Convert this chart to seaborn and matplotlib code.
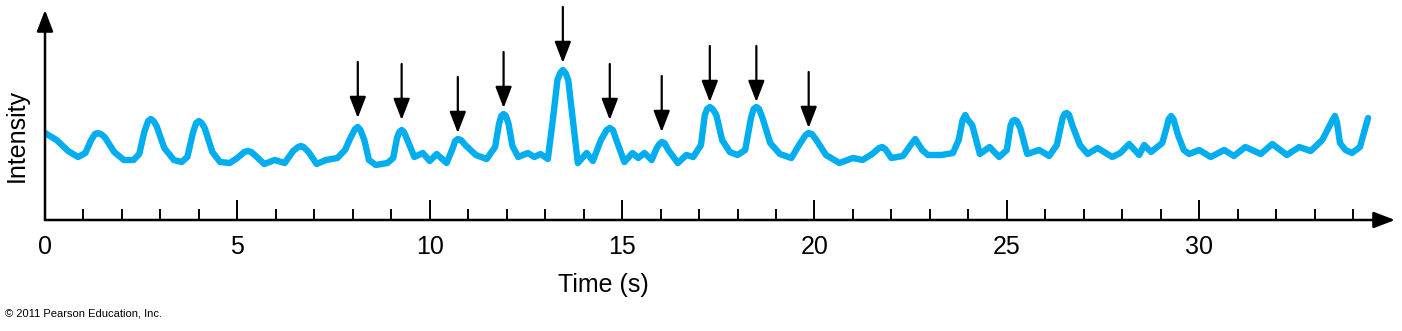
import matplotlib
matplotlib.use("Agg")
import matplotlib.pyplot as plt
from matplotlib.patches import ArrowStyle
import seaborn as sns
import pandas as pd

# ---- data ----
time_s = [0.00, 0.30, 0.60, 0.86, 1.05, 1.20, 1.30, 1.37, 1.45, 1.55, 1.80, 2.05, 2.30, 2.45, 2.58,
          2.68, 2.75, 2.82, 2.90, 3.10, 3.35, 3.55, 3.70, 3.85, 3.93, 4.00, 4.07, 4.15, 4.35, 4.55,
          4.80, 5.00, 5.18, 5.27, 5.36, 5.45, 5.70, 5.97, 6.23, 6.45, 6.58, 6.65, 6.72, 6.85, 7.06,
          7.30, 7.60, 7.80, 7.95, 8.06, 8.13, 8.20, 8.30, 8.42, 8.60, 8.90, 9.05, 9.15, 9.21, 9.27,
          9.33, 9.42, 9.60, 9.82, 10.00, 10.18, 10.44, 10.60, 10.66, 10.73, 10.81, 10.95, 11.20,
          11.48, 11.70, 11.80, 11.86, 11.92, 11.98, 12.05, 12.15, 12.30, 12.55, 12.72, 12.88,
          13.07, 13.20, 13.32, 13.39, 13.46, 13.53, 13.60, 13.72, 13.85, 14.08, 14.24, 14.45,
          14.60, 14.68, 14.76, 14.85, 15.06, 15.27, 15.42, 15.58, 15.77, 15.90, 15.97, 16.03,
          16.10, 16.20, 16.45, 16.67, 16.85, 17.05, 17.15, 17.21, 17.28, 17.35, 17.45, 17.60,
          17.80, 18.00, 18.20, 18.35, 18.42, 18.49, 18.56, 18.65, 18.85, 19.10, 19.40, 19.60,
          19.77, 19.85, 19.93, 20.05, 20.30, 20.65, 21.00, 21.25, 21.50, 21.68, 21.76, 21.84,
          22.00, 22.30, 22.50, 22.62, 22.80, 22.95, 23.30, 23.60, 23.75, 23.85, 23.92, 23.99,
          24.10, 24.30, 24.55, 24.80, 25.00, 25.10, 25.15, 25.20, 25.26, 25.35, 25.53, 25.84,
          26.10, 26.30, 26.45, 26.50, 26.56, 26.62, 26.70, 26.90, 27.10, 27.36, 27.74, 27.95,
          28.18, 28.44, 28.57, 28.75, 29.04, 29.15, 29.21, 29.27, 29.33, 29.45, 29.60, 29.74,
          30.00, 30.30, 30.65, 30.90, 31.20, 31.60, 31.90, 32.28, 32.60, 32.90, 33.20, 33.40,
          33.48, 33.53, 33.58, 33.66, 33.80, 33.97, 34.18, 34.39]
intensity = [87, 80, 69, 63, 67, 80, 86, 87, 86, 83, 68, 60, 60, 66, 88,
             99, 101, 99, 94, 72, 60, 58, 63, 88, 97, 99, 97, 92, 68, 58,
             57, 62, 68, 69, 68, 65, 56, 60, 57, 69, 73, 74, 73, 68, 56,
             60, 62, 70, 83, 91, 93, 90, 80, 60, 55, 57, 62, 82, 88, 90,
             88, 80, 63, 67, 59, 66, 57, 72, 79, 81, 80, 74, 65,
             61, 73, 96, 104, 106, 104, 96, 74, 63, 67, 63, 66,
             61, 100, 140, 147, 150, 147, 140, 100, 57, 67, 59, 80,
             90, 92, 90, 80, 58, 67, 62, 67, 60, 72, 76, 78,
             77, 70, 57, 65, 63, 75, 105, 111, 113, 111, 105, 80,
             68, 65, 70, 102, 111, 113, 111, 102, 77, 66, 62, 75,
             85, 87, 86, 80, 65, 57, 62, 60, 66, 72, 73, 71,
             62, 64, 75, 81, 70, 65, 65, 67, 80, 100, 105, 100,
             95, 66, 73, 63, 70, 95, 99, 100, 99, 92, 66, 70,
             64, 75, 102, 106, 107, 105, 95, 75, 66, 72, 63, 67,
             76, 65, 75, 68, 77, 92, 101, 104, 101, 85, 70, 66,
             70, 63, 70, 64, 73, 66, 76, 65, 73, 69, 80, 95,
             101, 104, 98, 77, 70, 67, 73, 102]

arrow_times = [8.13, 9.27, 10.73, 11.92, 13.46, 14.68, 16.03, 17.28, 18.49, 19.85]
arrow_tips = [102, 100, 87, 112, 157, 100, 88, 118, 118, 92]
arrow_len = 56

major_ticks = [0, 5, 10, 15, 20, 25, 30]
major_labels = ["0", "5", "10", "15", "20", "25", "30"]
minor_ticks = [t for t in range(0, 35) if t % 5 != 0]

# ---- style ----
sns.set_theme(style="white")
plt.rcParams["font.family"] = ["Liberation Sans", "DejaVu Sans"]
plt.rcParams["text.color"] = "black"
plt.rcParams["xtick.color"] = "black"

W, H = 1402, 331
fig = plt.figure(figsize=(W / 100, H / 100), dpi=100)
x0_px, x1_px, ytop_px, ybot_px = 45, 1395, 10, 220
ax = fig.add_axes([x0_px / W, 1 - ybot_px / H, (x1_px - x0_px) / W, (ybot_px - ytop_px) / H])
ax.set_facecolor("none")

df = pd.DataFrame({"Time (s)": time_s, "Intensity": intensity})
sns.lineplot(data=df, x="Time (s)", y="Intensity", ax=ax, color="#00aeef",
             linewidth=4.6, estimator=None, sort=True,
             solid_capstyle="round", solid_joinstyle="round")

ax.set_xlim(0, 35.09)
ax.set_ylim(0, 210)

for s in ax.spines.values():
    s.set_visible(False)

ax.set_xticks(major_ticks)
ax.set_xticklabels(major_labels, fontsize=18, color="black")
ax.set_xticks(minor_ticks, minor=True)
ax.set_yticks([])
ax.tick_params(axis="x", which="major", direction="in", length=14.4, width=1.4,
               color="black", labelcolor="black", pad=11, bottom=True)
ax.tick_params(axis="x", which="minor", direction="in", length=7.9, width=1.4,
               color="black", bottom=True)
ax.set_xlabel("")
ax.set_ylabel("")

head = ArrowStyle("-|>", head_length=0.65, head_width=0.25)
# axis arrows
ax.annotate("", xy=(1, 0), xytext=(0, 0), xycoords="axes fraction",
            arrowprops=dict(arrowstyle=head, color="black", lw=1.8, mutation_scale=20,
                            shrinkA=0, shrinkB=0))
ax.annotate("", xy=(0, 1), xytext=(0, 0), xycoords="axes fraction",
            arrowprops=dict(arrowstyle=head, color="black", lw=1.8, mutation_scale=20,
                            shrinkA=0, shrinkB=0))

# event arrows
for t, tip in zip(arrow_times, arrow_tips):
    ax.annotate("", xy=(t, tip), xytext=(t, tip + arrow_len), xycoords="data",
                arrowprops=dict(arrowstyle=head, color="black", lw=1.6, mutation_scale=20,
                                shrinkA=0, shrinkB=0))

fig.text(603 / W, 1 - 285 / H, "Time (s)", fontsize=18, ha="center", va="center",
         color="black")
fig.text(17 / W, 1 - 136 / H, "Intensity", fontsize=18, ha="center", va="center",
         rotation=90, color="black")
fig.text(5 / W, 1 - 314 / H, "\u00a9 2011 Pearson Education, Inc.", fontsize=8,
         ha="left", va="center", color="black")

fig.savefig("out.png", dpi=100)
